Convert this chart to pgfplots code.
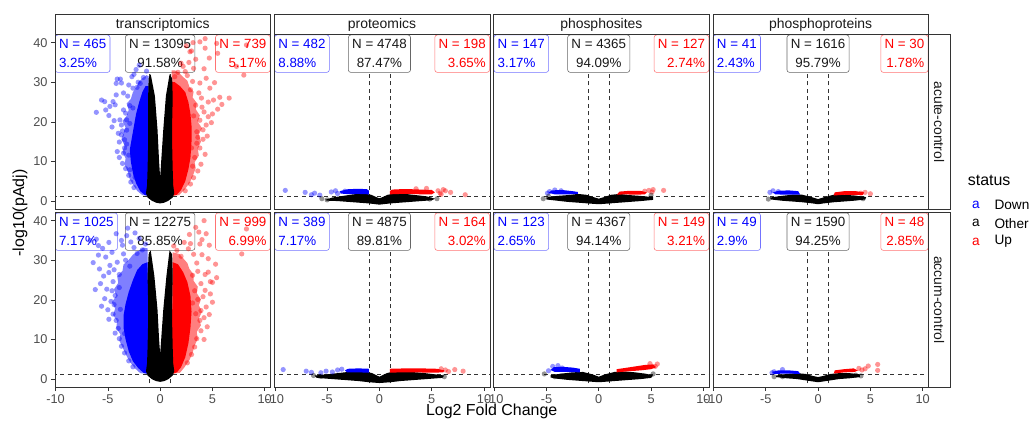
\documentclass[border=0pt]{standalone}
\usepackage{fontspec}
\setmainfont{Liberation Sans}
\usepackage{pgfplots}
\pgfplotsset{compat=1.18}
\definecolor{cblue}{RGB}{0,0,255}
\definecolor{cred}{RGB}{255,0,0}
\definecolor{c20}{RGB}{51,51,51}
\definecolor{c30}{RGB}{77,77,77}
\tikzset{lb/.style={fill=white, rounded corners=2.5bp, line width=0.55bp, inner xsep=3.8bp, inner ysep=2bp, minimum height=37.4bp, font=\fontsize{13.4}{19}\selectfont}}
\pgfplotsset{
  panel/.style={
    scale only axis, width=215.5bp, height=174.3bp,
    xmin=-10.05, xmax=10.55, ymin=-2, ymax=42,
    anchor=south west, axis on top,
    axis line style={draw=c20, line width=0.55bp},
    xtick=\empty, ytick=\empty,
    tick style={draw=c20, line width=0.55bp},
    major tick length=4bp, tick align=outside,
    ticklabel style={font=\fontsize{12.8}{14}\selectfont, text=c30},
  },
  leftcol/.style={ytick={0,10,20,30,40}, yticklabels={0,10,20,30,40}, ytick pos=left},
  botrow/.style={xtick={-10,-5,0,5,10}, xticklabels={-10,-5,0,5,10}, xtick pos=bottom},
  refl/.style={dash pattern=on 4bp off 3.5bp, draw=c20, line width=0.6bp, forget plot},
  bpts/.style={only marks, mark=*, mark size=2.6bp, color=cblue, mark options={fill=cblue, draw opacity=0, fill opacity=0.42}, forget plot},
  rpts/.style={only marks, mark=*, mark size=2.6bp, color=cred, mark options={fill=cred, draw opacity=0, fill opacity=0.42}, forget plot},
  kpts/.style={only marks, mark=*, mark size=2.6bp, color=black, mark options={fill=black, draw opacity=0, fill opacity=0.42}, forget plot},
  bfill/.style={fill=cblue, draw=none, forget plot},
  rfill/.style={fill=cred, draw=none, forget plot},
  kfill/.style={fill=black, draw=none, forget plot},
  bhalo/.style={fill=cblue, fill opacity=0.5, draw=none, forget plot},
  rhalo/.style={fill=cred, fill opacity=0.5, draw=none, forget plot},
}
\newcommand{\reflines}{%
  \addplot[refl] coordinates {(-1,-3) (-1,45)};
  \addplot[refl] coordinates {(1,-3) (1,45)};
  \addplot[refl] coordinates {(-11,1.301) (11,1.301)};
}
\newcommand{\boxes}[6]{%
  \node[lb, draw=cblue!55, text=cblue, align=left, anchor=north west] at (rel axis cs:0,1) {N = #1\\#2\%};
  \node[lb, draw=black!60, text=black!90, align=center, anchor=north] at (axis cs:0,42) {N = #3\\#4\%};
  \node[lb, draw=cred!55, text=cred, align=right, anchor=north east] at (rel axis cs:1,1) {N = #5\\#6\%};
}
\begin{document}
\begin{tikzpicture}[x=1bp,y=1bp]
\path[use as bounding box] (0,0) rectangle (1032,427);

% ---------------- Row 1: acute-control ----------------
\begin{axis}[panel, leftcol, at={(55bp,218bp)}]
\reflines
\boxes{465}{3.25}{13095}{91.58}{739}{5.17}
\addplot[bhalo] coordinates {(-1.1,1.3) (-1.7,1.5) (-2.2,2.6) (-2.6,4.2) (-2.9,5.5) (-3.1,7.5) (-3.4,9.2) (-3.3,10.8) (-3.6,12.4) (-3.4,14) (-3.7,15.6) (-3.5,17.2) (-3.3,18.5) (-3.6,20.2) (-3.2,21.5) (-3.0,23) (-3.2,24.6) (-2.8,25.8) (-2.6,27.5) (-2.3,28.6) (-2.0,30.2) (-1.7,31) (-1.3,31.8) (-1.1,31.5)} -- cycle;
\addplot[rhalo] coordinates {(1.1,1.3) (1.8,1.5) (2.3,2.8) (2.8,4.5) (3.1,6.2) (3.4,8.3) (3.3,9.8) (3.7,11.5) (3.6,13.2) (3.9,15) (3.7,16.8) (4.0,18.4) (3.6,20) (3.8,21.6) (3.4,23.2) (3.5,24.8) (3.1,26.2) (3.2,27.6) (2.8,28.8) (2.6,30.4) (2.2,31.3) (1.8,32.4) (1.4,33) (1.1,33)} -- cycle;
\addplot[bfill] coordinates {(-1.1,1.3) (-1.5,1.6) (-1.9,2.5) (-2.3,4.5) (-2.6,7) (-2.8,10) (-2.9,13) (-2.7,16) (-2.5,19) (-2.3,22) (-2.0,25) (-1.7,27.5) (-1.4,29) (-1.1,29)} -- cycle;
\addplot[rfill] coordinates {(1.1,1.3) (1.6,1.6) (2.0,2.8) (2.4,5) (2.7,8) (2.9,11) (3.0,15) (3.0,19) (2.9,22) (2.7,25) (2.4,27.5) (1.9,29) (1.4,30) (1.1,30)} -- cycle;
\addplot[kfill] coordinates {(0,-0.6) (-0.4,-0.4) (-0.8,0.1) (-1.2,0.9) (-1.35,2.0) (-1.25,4) (-1.2,8) (-1.15,14) (-1.15,20) (-1.15,26) (-1.1,31) (-0.9,32) (-0.5,26.5) (-0.25,18) (-0.1,10) (0,6) (0.1,10) (0.3,18) (0.55,26.5) (0.9,32) (1.15,31) (1.2,26) (1.15,20) (1.15,14) (1.2,8) (1.25,4) (1.35,2.0) (1.2,0.9) (0.8,0.1) (0.4,-0.4)} -- cycle;
\addplot[bpts] coordinates {(-6.1,22.4) (-5.6,25.5) (-5.3,25.1) (-4.8,23.9) (-4.3,24.3) (-4.1,30.8) (-3.8,30.8) (-4.2,29.7) (-4.4,20.3) (-3.5,23) (-3.2,20.5) (-3.4,15.5) (-4.1,12.5) (-3.2,14.4) (-3.6,17.7) (-2.7,31.4) (-2.3,33.2) (-2.1,30) (-3.7,29.8) (-2.6,28.5) (-1.9,29.7) (-3.85,20.5) (-3.7,16.7) (-3.4,13.4) (-4.5,25.1) (-3.9,11) (-3.6,9.5) (-3.3,8.2) (-3.0,6.5) (-2.8,4.8) (-2.5,3.4) (-3.1,26.5) (-2.9,24.1) (-3.3,22.2) (-3.7,19.2) (-3.9,14.9) (-4.0,17.1) (-2.5,32) (-3.0,29.3) (-2.2,28.7) (-3.5,27.3) (-4.6,18.7) (-3.0,11.6) (-3.5,12.1) (-2.4,6.0) (-2.9,7.9) (-3.2,17.9) (-2.9,19.6) (-2.6,23.5) (-1.6,31.2) (-1.3,32.8) (-2.0,34.3) (-4.9,21.6) (-5.2,23.0) (-4.2,26.8)};
\addplot[rpts] coordinates {(3.15,40) (2.85,37.7) (3.8,40.2) (4.3,38.6) (5.4,39.8) (5.5,37.3) (8.0,31.8) (8.25,39.4) (2.0,34.8) (2.4,32.7) (2.75,35) (3.2,33.5) (3.8,29.8) (4.4,31) (4.75,28.5) (5.7,26.2) (5.1,25.5) (3.95,26) (5.5,23.2) (5.0,22) (4.6,21.3) (4.2,22.5) (4.4,19.2) (4.1,18) (3.8,20.4) (3.5,17.5) (3.5,14.6) (3.0,13.4) (3.8,13.4) (2.5,10.4) (3.3,11) (4.1,15.6) (4.5,16.4) (3.9,9.3) (3.6,7.6) (3.2,5.9) (2.9,4.3) (2.4,2.6) (3.4,24.2) (3.7,27.3) (3.1,30.2) (2.6,31.7) (4.2,33.4) (3.4,35.8) (2.9,28.1) (4.6,25) (4.9,19.8) (3.2,21.5) (4.0,23.7) (3.6,16.1) (4.3,11.8) (3.1,8.8) (2.2,34) (1.7,32.5) (1.4,31.4) (5.2,29.9) (6.6,26) (5.9,24.4) (3.0,37.9) (2.5,39.2) (4.7,36.1) (4.3,41.0) (7.3,34.0)};
\end{axis}

\begin{axis}[panel, at={(274.3bp,218bp)}]
\reflines
\boxes{482}{8.88}{4748}{87.47}{198}{3.65}
\addplot[kfill] coordinates {(-5.2,0.3) (-4.5,0.9) (-3.5,1.3) (-2.5,1.7) (-1.5,1.9) (-0.8,1.6) (-0.3,1.0) (0,0.7) (0.3,1.0) (0.8,1.6) (1.5,1.9) (2.5,1.8) (3.5,1.5) (4.5,1.2) (5.3,0.6) (5.0,0.2) (4,0.0) (3,-0.2) (2,-0.4) (1,-0.6) (0,-0.9) (-1,-0.6) (-2,-0.4) (-3,-0.2) (-4,0.0) (-5,0.1)} -- cycle;
\addplot[bfill] coordinates {(-1.0,1.7) (-2.0,1.8) (-3.0,1.75) (-3.7,1.9) (-3.8,2.5) (-3.0,3.0) (-2.0,3.1) (-1.2,3.0) (-1.0,2.6)} -- cycle;
\addplot[rfill] coordinates {(1.0,1.7) (2.0,1.8) (3.0,1.8) (4.0,1.7) (5.0,1.7) (5.3,2.2) (5.0,2.8) (4.0,2.9) (3.0,3.0) (2.0,3.0) (1.2,2.9) (1.0,2.5)} -- cycle;
\addplot[bpts] coordinates {(-9.0,2.7) (-7.1,2.2) (-6.5,1.6) (-6.2,2.0) (-5.7,1.5) (-4.6,2.3) (-4.2,2.6) (-4.0,1.9) (-3.3,2.5)};
\addplot[rpts] coordinates {(8.2,1.6) (6.8,2.2) (6.3,2.6) (5.8,2.0) (5.6,2.6) (5.9,1.7) (6.1,2.9) (4.5,3.2) (3.5,3.1)};
\addplot[kpts] coordinates {(-5.5,0.6) (-5.0,0.3) (5.5,0.6) (4.8,0.5)};
\end{axis}

\begin{axis}[panel, at={(493.6bp,218bp)}]
\reflines
\boxes{147}{3.17}{4365}{94.09}{127}{2.74}
\addplot[kfill] coordinates {(-5.0,0.9) (-4,1.3) (-3,1.5) (-2,1.8) (-1.2,1.6) (-0.5,1.0) (0,0.6) (0.5,1.0) (1.2,1.6) (2,1.8) (3,1.5) (4,1.3) (5.2,1.0) (5.2,0.3) (4,0.0) (3,-0.2) (2,-0.4) (1,-0.6) (0,-0.8) (-1,-0.6) (-2,-0.4) (-3,-0.2) (-4,0.1) (-5.0,0.4)} -- cycle;
\addplot[bfill] coordinates {(-2.0,1.8) (-3,1.7) (-4.2,1.7) (-4.8,2.1) (-4.5,2.7) (-3.5,2.8) (-2.5,2.5) (-2.0,2.3)} -- cycle;
\addplot[rfill] coordinates {(1.7,1.6) (2.5,1.7) (3.5,1.6) (4.4,1.7) (4.6,2.2) (4.0,2.6) (3.0,2.6) (2.0,2.4)} -- cycle;
\addplot[bpts] coordinates {(-4.7,2.4) (-4.2,2.8) (-4.9,2.0) (-3.6,2.6)};
\addplot[rpts] coordinates {(5.1,2.3) (5.2,2.9) (6.2,2.7) (4.8,2.7) (4.4,2.5)};
\addplot[kpts] coordinates {(-4.8,1.2) (-5.3,0.6) (5.0,1.5)};
\end{axis}

\begin{axis}[panel, at={(712.9bp,218bp)}]
\reflines
\boxes{41}{2.43}{1616}{95.79}{30}{1.78}
\addplot[kfill] coordinates {(-4.6,0.9) (-3.5,1.3) (-2.5,1.6) (-1.5,1.6) (-0.6,1.0) (0,0.5) (0.6,1.0) (1.5,1.6) (2.5,1.6) (3.5,1.4) (4.6,1.0) (4.5,0.4) (3.5,0.1) (2.5,-0.1) (1.5,-0.3) (0.5,-0.6) (0,-0.8) (-0.5,-0.6) (-1.5,-0.3) (-2.5,-0.1) (-3.5,0.1) (-4.5,0.4)} -- cycle;
\addplot[bfill] coordinates {(-1.7,1.6) (-3,1.6) (-4.1,1.7) (-4.3,2.2) (-3.8,2.6) (-2.8,2.7) (-1.9,2.5)} -- cycle;
\addplot[rfill] coordinates {(1.5,1.4) (2.5,1.6) (3.5,1.5) (4.3,1.6) (4.4,2.2) (3.6,2.5) (2.5,2.5) (1.6,2.2)} -- cycle;
\addplot[bpts] coordinates {(-4.3,2.6) (-3.8,2.4) (-4.6,2.2)};
\addplot[rpts] coordinates {(5.0,1.85) (4.5,2.2) (4.1,2.0)};
\addplot[kpts] coordinates {(-4.75,0.5) (4.3,0.6)};
\end{axis}

% ---------------- Row 2: accum-control ----------------
\begin{axis}[panel, leftcol, botrow, at={(55bp,40bp)}]
\reflines
\boxes{1025}{7.17}{12275}{85.85}{999}{6.99}
\addplot[bhalo] coordinates {(-1.1,1.3) (-1.9,1.5) (-2.4,2.7) (-2.9,4.4) (-3.3,6.3) (-3.6,8.1) (-3.9,9.7) (-3.8,11.3) (-4.2,12.9) (-4.1,14.6) (-4.5,16.2) (-4.3,17.8) (-4.6,19.4) (-4.2,21) (-4.4,22.7) (-4.0,24.3) (-4.1,25.9) (-3.6,27.3) (-3.5,28.9) (-3.0,30.1) (-2.6,31.4) (-2.1,32.3) (-1.6,33.2) (-1.2,33)} -- cycle;
\addplot[rhalo] coordinates {(1.1,1.3) (1.9,1.6) (2.3,2.9) (2.8,4.8) (3.1,6.6) (3.3,8.5) (3.6,10.2) (3.5,11.9) (3.9,13.6) (3.7,15.3) (4.0,17) (3.7,18.6) (3.9,20.1) (3.5,21.7) (3.6,23.3) (3.2,24.8) (3.2,26.4) (2.8,27.8) (2.6,29.3) (2.2,30.5) (1.8,31.6) (1.2,32)} -- cycle;
\addplot[bfill] coordinates {(-1.1,1.3) (-1.6,1.6) (-2.1,2.8) (-2.6,4.5) (-3.0,7) (-3.3,10) (-3.5,13) (-3.5,16) (-3.3,19) (-3.0,22) (-2.6,25) (-2.2,27.5) (-1.7,29) (-1.2,29.5)} -- cycle;
\addplot[rfill] coordinates {(1.1,1.3) (1.6,1.7) (2.0,3) (2.4,5.5) (2.7,9) (2.9,13) (3.0,17) (2.9,21) (2.6,24.5) (2.2,27) (1.7,29) (1.2,29.5)} -- cycle;
\addplot[kfill] coordinates {(0,-0.7) (-0.4,-0.5) (-0.8,0.0) (-1.2,0.9) (-1.35,2.0) (-1.25,4) (-1.2,8) (-1.15,14) (-1.15,20) (-1.2,26) (-1.1,31.5) (-0.9,32.5) (-0.55,26) (-0.25,17.5) (-0.1,10) (0,6.4) (0.1,10) (0.3,17.5) (0.6,26) (0.9,32.5) (1.15,31.5) (1.2,26) (1.15,20) (1.15,14) (1.2,8) (1.25,4) (1.35,2.0) (1.2,0.9) (0.8,0.0) (0.4,-0.5)} -- cycle;
\addplot[bpts] coordinates {(-6.2,22.6) (-5.8,27.8) (-5.9,33.7) (-4.2,36.7) (-5.2,30.8) (-5.0,17.5) (-4.3,21.1) (-4.0,12.8) (-3.4,11.5) (-6.7,35) (-6.1,35.3) (-5.5,33) (-4.9,34.5) (-4.6,32) (-3.7,35) (-3.2,36.2) (-2.8,34.6) (-2.5,33.2) (-3.5,31.6) (-4.1,29.5) (-4.8,28.7) (-5.4,26) (-5.7,24.1) (-4.5,24.6) (-5.1,22.7) (-4.7,19.6) (-4.5,16.4) (-4.2,14.8) (-3.9,10.2) (-3.7,8.3) (-3.4,6.6) (-3.0,4.6) (-2.6,3.1) (-4.9,26.9) (-4.4,27.6) (-3.9,26.4) (-3.3,30) (-2.2,31.7) (-1.7,32.6) (-1.4,34.1) (-4.6,22.3) (-3.9,23.1) (-4.4,18.8) (-5.3,20.3) (-5.6,18.4) (-4.9,15.1) (-4.3,11.6) (-3.8,17.6) (-2.9,28.5) (-3.6,33.8) (-2.4,36.9) (-2.0,35.5) (-6.4,29.4) (-5.9,31.3) (-3.1,38.1)};
\addplot[rpts] coordinates {(5.4,25.6) (5.0,24.4) (4.6,27) (4.3,26.4) (3.9,24.1) (5.0,19.4) (4.4,18.2) (4.1,20.8) (3.8,14.8) (4.2,40) (4.4,36.7) (3.8,34.1) (3.4,38.3) (2.9,34.2) (8.25,37.9) (7.8,31.6) (3.5,29.3) (3.2,31.5) (2.7,32.9) (2.3,34.5) (4.0,31.4) (4.6,30.4) (3.6,27.2) (3.3,22.3) (3.6,20.1) (4.3,22.4) (4.8,21.5) (4.7,16.3) (4.2,15.5) (3.9,12.2) (3.5,10.2) (3.3,8.1) (3.0,6.2) (2.6,4.1) (3.4,16.5) (3.9,17.3) (4.5,13.2) (4.8,24.6) (5.3,29.0) (3.1,26.2) (2.0,31) (1.6,32.5) (1.3,33.6) (3.7,37.1) (4.7,33.8) (2.8,36.5) (4.0,35.2) (3.1,19.2) (4.2,10.0)};
\end{axis}

\begin{axis}[panel, botrow, at={(274.3bp,40bp)}]
\reflines
\boxes{389}{7.17}{4875}{89.81}{164}{3.02}
\addplot[kfill] coordinates {(-6.2,0.9) (-5,1.2) (-4,1.5) (-3,1.8) (-1.5,2.0) (-0.7,1.5) (0,0.6) (0.7,1.5) (1.5,2.0) (3,1.8) (4,1.6) (5,1.3) (6.2,0.9) (6.0,0.3) (5,0.1) (4,-0.1) (3,-0.3) (2,-0.5) (1,-0.8) (0,-1.0) (-1,-0.8) (-2,-0.5) (-3,-0.3) (-4,-0.1) (-5,0.1) (-6.0,0.3)} -- cycle;
\addplot[bfill] coordinates {(-1.0,1.6) (-2.0,1.7) (-3.1,1.7) (-3.3,2.2) (-3.0,2.6) (-2.0,2.7) (-1.0,2.6)} -- cycle;
\addplot[rfill] coordinates {(1.0,1.6) (2.0,1.7) (3.5,1.7) (5.0,1.6) (6.1,1.7) (6.2,2.2) (5.5,2.6) (4.0,2.7) (2.5,2.7) (1.0,2.6)} -- cycle;
\addplot[bpts] coordinates {(-9.2,2.4) (-7.0,2.0) (-6.5,1.7) (-5.1,2.0) (-4.0,2.3) (-3.6,2.5) (-4.5,1.8) (-5.6,1.6)};
\addplot[rpts] coordinates {(7.2,2.4) (8.0,2.0) (6.3,2.3) (6.6,1.9) (5.9,2.6)};
\addplot[kpts] coordinates {(-6.3,0.9) (-5.6,0.7) (6.2,0.6)};
\end{axis}

\begin{axis}[panel, botrow, at={(493.6bp,40bp)}]
\reflines
\boxes{123}{2.65}{4367}{94.14}{149}{3.21}
\addplot[kfill] coordinates {(-4.6,1.0) (-3.5,1.4) (-2.5,1.7) (-1.5,1.8) (-0.6,1.2) (0,0.6) (0.6,1.2) (1.5,1.8) (2.5,1.9) (3.5,1.7) (4.6,1.3) (5.2,0.9) (5.0,0.3) (4,0.0) (3,-0.2) (2,-0.4) (1,-0.6) (0,-0.8) (-1,-0.6) (-2,-0.4) (-3,-0.2) (-4,0.1) (-4.6,0.4)} -- cycle;
\addplot[bfill] coordinates {(-1.8,1.7) (-3,1.8) (-4.2,1.8) (-4.6,2.3) (-4.3,3.0) (-3.5,3.1) (-2.5,2.9) (-1.8,2.6)} -- cycle;
\addplot[rfill] coordinates {(1.7,1.7) (3,2.0) (4,2.2) (5.0,2.5) (5.5,3.0) (5.2,3.7) (4.5,3.6) (3.5,3.2) (2.5,2.8) (1.7,2.5)} -- cycle;
\addplot[bpts] coordinates {(-4.4,3.2) (-3.9,3.4) (-3.5,2.8) (-4.8,2.1)};
\addplot[rpts] coordinates {(5.6,3.8) (5.4,3.2) (4.9,3.9)};
\addplot[kpts] coordinates {(-5.2,1.3) (-4.2,0.6) (-3.6,0.8) (5.2,1.3) (4.3,0.8)};
\end{axis}

\begin{axis}[panel, botrow, at={(712.9bp,40bp)}]
\reflines
\boxes{49}{2.9}{1590}{94.25}{48}{2.85}
\addplot[kfill] coordinates {(-4.0,0.9) (-3,1.3) (-2,1.5) (-1.2,1.3) (-0.5,0.8) (0,0.5) (0.5,0.8) (1.2,1.3) (2,1.5) (3,1.5) (4.0,1.2) (4.0,0.5) (3,0.2) (2,0) (1,-0.4) (0,-0.8) (-1,-0.4) (-2,0) (-3,0.2) (-4.0,0.5)} -- cycle;
\addplot[bfill] coordinates {(-1.7,1.3) (-3,1.4) (-4.2,1.3) (-4.4,1.8) (-3.8,2.2) (-2.8,2.2) (-1.9,2.0)} -- cycle;
\addplot[rfill] coordinates {(1.5,1.4) (2.5,1.7) (3.5,1.8) (3.8,2.2) (3.4,2.7) (2.5,2.5) (1.6,2.2)} -- cycle;
\addplot[bpts] coordinates {(-4.2,1.85) (-3.4,2.4) (-4.4,1.6)};
\addplot[rpts] coordinates {(4.2,2.3) (4.8,3.3) (5.7,3.7) (5.7,2.2) (4.5,2.6) (3.9,2.7)};
\addplot[kpts] coordinates {(-4.2,0.6) (-3.4,0.6) (4.1,0.8) (3.6,1.0)};
\end{axis}

% ---------------- strips ----------------
\foreach \xl/\lab in {55/transcriptomics, 274.3/proteomics, 493.6/phosphosites, 712.9/phosphoproteins}{
  \draw[c20, line width=0.55bp, fill=white] (\xl,392.3) rectangle ({\xl+215.5},413);
  \node[font=\fontsize{14}{16}\selectfont, text=black!90] at ({\xl+107.75},402.6) {\lab};
}
\draw[c20, line width=0.55bp, fill=white] (928.4,218) rectangle (950,392.3);
\node[font=\fontsize{14}{16}\selectfont, text=black!90, rotate=-90] at (939.2,305.15) {acute-control};
\draw[c20, line width=0.55bp, fill=white] (928.4,40) rectangle (950,214.3);
\node[font=\fontsize{14}{16}\selectfont, text=black!90, rotate=-90] at (939.2,127.15) {accum-control};

% ---------------- axis titles ----------------
\node[font=\fontsize{16}{18}\selectfont, rotate=90] at (20,214) {-log10(pAdj)};
\node[font=\fontsize{16}{18}\selectfont, anchor=base] at (491.7,12) {Log2 Fold Change};

% ---------------- legend ----------------
\node[font=\fontsize{16}{18}\selectfont, anchor=west, inner sep=0pt] at (967.7,246.3) {status};
\node[font=\fontsize{13.7}{15}\selectfont, text=cblue] at (976,222) {a};
\node[font=\fontsize{13.7}{15}\selectfont, text=black] at (976,203.7) {a};
\node[font=\fontsize{13.7}{15}\selectfont, text=cred] at (976,185.3) {a};
\node[font=\fontsize{13.7}{15}\selectfont, anchor=west, inner sep=0pt] at (994.3,222) {Down};
\node[font=\fontsize{13.7}{15}\selectfont, anchor=west, inner sep=0pt] at (994.3,203.7) {Other};
\node[font=\fontsize{13.7}{15}\selectfont, anchor=west, inner sep=0pt] at (994.3,185.3) {Up};
\end{tikzpicture}
\end{document}
